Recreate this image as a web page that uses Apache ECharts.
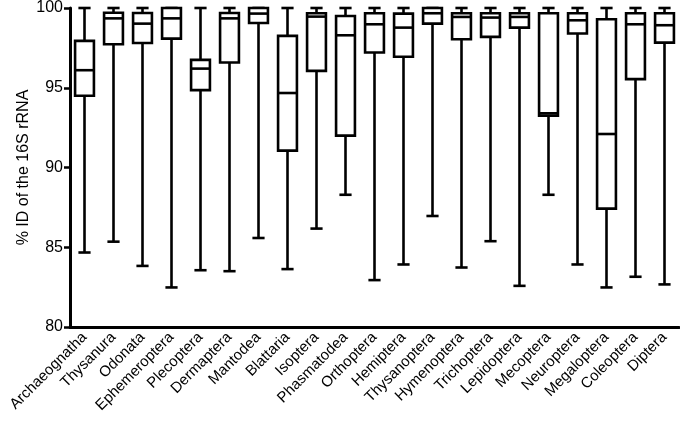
<!DOCTYPE html>
<html>
<head>
<meta charset="utf-8">
<script src="https://cdn.jsdelivr.net/npm/echarts@6/dist/echarts.min.js"></script>
<style>html,body{margin:0;padding:0;background:#fff}#c{width:680px;height:433px}</style>
</head>
<body>
<div id="c"></div>
<script>
const categories = ['Archaeognatha','Thysanura','Odonata','Ephemeroptera','Plecoptera','Dermaptera','Mantodea','Blattaria','Isoptera','Phasmatodea','Orthoptera','Hemiptera','Thysanoptera','Hymenoptera','Trichoptera','Lepidoptera','Mecoptera','Neuroptera','Megaloptera','Coleoptera','Diptera'];
const minValues    = [84.67, 85.35, 83.83, 82.48, 83.56, 83.50, 85.58, 83.63, 86.17, 88.29, 82.94, 83.92, 86.96, 83.73, 85.38, 82.58, 88.29, 83.92, 82.48, 83.15, 82.67];
const q1Values     = [94.50, 97.73, 97.81, 98.08, 94.85, 96.58, 99.06, 91.06, 96.06, 92.00, 97.21, 96.94, 99.02, 98.04, 98.19, 98.77, 93.25, 98.40, 87.42, 95.54, 97.83];
const medianValues = [96.10, 99.35, 99.02, 99.35, 96.20, 99.35, 99.65, 94.67, 99.46, 98.29, 98.98, 98.77, 99.67, 99.44, 99.40, 99.44, 93.40, 99.23, 92.10, 98.98, 98.92];
const q3Values     = [97.94, 99.70, 99.69, 100.0, 96.75, 99.69, 100.0, 98.25, 99.67, 99.50, 99.67, 99.65, 100.0, 99.67, 99.67, 99.67, 99.67, 99.67, 99.29, 99.67, 99.67];
const maxValues    = [100, 100, 100, 100, 100, 100, 100, 100, 100, 100, 100, 100, 100, 100, 100, 100, 100, 100, 100, 100, 100];
const yTicks = [80, 85, 90, 95, 100];

const data = categories.map((c, i) => [i, minValues[i], q1Values[i], medianValues[i], q3Values[i], maxValues[i]]);
const chart = echarts.init(document.getElementById('c'));
const font = 'Liberation Sans, Arial, sans-serif';
const lw = 2.6;
chart.setOption({
  animation: false,
  backgroundColor: '#fff',
  grid: { left: 70, right: 1, top: 7, bottom: 106 },
  xAxis: {
    type: 'category',
    data: categories,
    axisLine: { lineStyle: { color: '#000', width: 3 } },
    axisTick: { alignWithLabel: true, length: 6, lineStyle: { color: '#000', width: 2.5 } },
    axisLabel: { rotate: 45, color: '#000', fontSize: 15, fontFamily: font, margin: 8 },
    splitLine: { show: false }
  },
  yAxis: {
    type: 'value',
    min: yTicks[0], max: yTicks[yTicks.length - 1], interval: 5,
    name: '% ID of the 16S rRNA',
    nameLocation: 'middle',
    nameGap: 38,
    nameMoveOverlap: false,
    nameTextStyle: { color: '#000', fontSize: 16, fontFamily: font },
    axisLine: { show: true, lineStyle: { color: '#000', width: 3 } },
    axisTick: { show: true, length: 6, lineStyle: { color: '#000', width: 2.5 } },
    axisLabel: { color: '#000', fontSize: 16, fontFamily: font, margin: 7 },
    splitLine: { show: false }
  },
  series: [{
    type: 'custom',
    data: data,
    encode: { x: 0, y: [1, 2, 3, 4, 5] },
    renderItem: function (params, api) {
      const x = api.value(0);
      const pMin = api.coord([x, api.value(1)]);
      const pQ1 = api.coord([x, api.value(2)]);
      const pMed = api.coord([x, api.value(3)]);
      const pQ3 = api.coord([x, api.value(4)]);
      const pMax = api.coord([x, api.value(5)]);
      const band = api.size([1, 0])[0];
      const bw = band * 0.65;
      const cw = band * 0.42;
      const cx = pMin[0];
      const st = { stroke: '#000', lineWidth: lw, fill: null };
      return {
        type: 'group',
        children: [
          { type: 'line', shape: { x1: cx, y1: pMin[1], x2: cx, y2: pQ1[1] }, style: st },
          { type: 'line', shape: { x1: cx, y1: pQ3[1], x2: cx, y2: pMax[1] }, style: st },
          { type: 'line', shape: { x1: cx - cw / 2, y1: pMin[1], x2: cx + cw / 2, y2: pMin[1] }, style: st },
          { type: 'line', shape: { x1: cx - cw / 2, y1: pMax[1], x2: cx + cw / 2, y2: pMax[1] }, style: st },
          { type: 'rect', shape: { x: cx - bw / 2, y: pQ3[1], width: bw, height: pQ1[1] - pQ3[1] }, style: { stroke: '#000', lineWidth: lw, fill: '#fff' } },
          { type: 'line', shape: { x1: cx - bw / 2, y1: pMed[1], x2: cx + bw / 2, y2: pMed[1] }, style: st }
        ]
      };
    }
  }]
});
</script>
</body>
</html>
